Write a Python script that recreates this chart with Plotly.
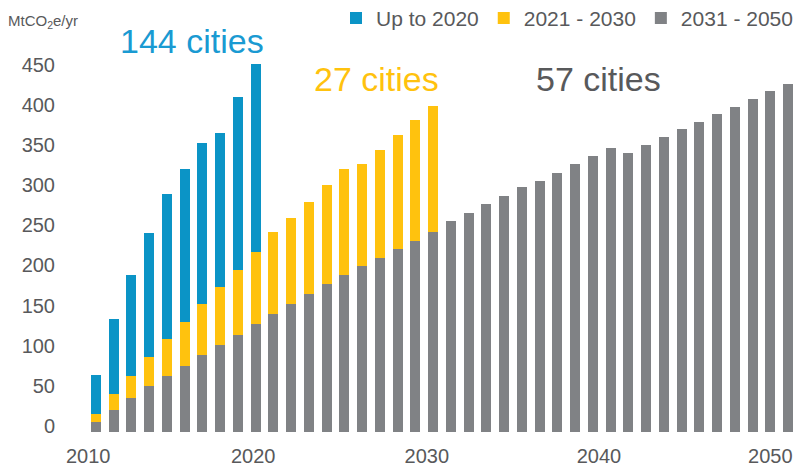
import plotly.graph_objects as go

# ---- data (MtCO2e/yr) ----
years = list(range(2011, 2051))

# segment: cities peaking up to 2020 (blue), 2011-2020
blue_years = list(range(2011, 2021))
blue_vals = [48.6, 94.3, 124.9, 154.9, 180.2, 190.5, 201.4, 192.3, 215.0, 234.6]

# segment: cities peaking 2021-2030 (yellow), 2011-2030
yellow_years = list(range(2011, 2031))
yellow_vals = [9.5, 19.0, 27.9, 36.5, 46.4, 55.3, 63.5, 72.3, 80.9, 90.1,
               102.4, 107.5, 115.0, 123.3, 132.0, 126.7, 134.5, 142.9, 149.8, 157.8]

# segment: cities peaking 2031-2050 (gray), 2011-2050
gray_vals = [12.5, 27.9, 42.3, 56.9, 69.4, 82.2, 95.5, 108.3, 121.3, 134.1,
             146.6, 159.0, 171.9, 184.3, 196.0, 206.7, 217.2, 227.5, 238.4, 248.7,
             262.4, 273.2, 283.6, 294.4, 304.7, 312.6, 323.0, 333.4, 343.7, 353.7,
             348.0, 357.4, 367.4, 377.0, 386.6, 396.0, 405.2, 414.7, 424.3, 433.9]

series_names = ["Up to 2020", "2021 - 2030", "2031 - 2050"]
group_labels = ["144 cities", "27 cities", "57 cities"]

y_ticks = [0, 50, 100, 150, 200, 250, 300, 350, 400, 450]
x_tick_labels = ["2010", "2020", "2030", "2040", "2050"]
x_tick_pos = [2010.56, 2019.86, 2029.64, 2039.34, 2048.99]

# ---- style ----
BLUE = "#0B94C6"
YELLOW = "#FFC20E"
GRAY = "#808285"
TXT = "#58595B"
FONT = "Liberation Sans, Arial, sans-serif"

fig = go.Figure()
fig.add_trace(go.Bar(x=years, y=gray_vals, name=series_names[2], marker_color=GRAY,
                     marker_line_width=0, legendrank=3))
fig.add_trace(go.Bar(x=yellow_years, y=yellow_vals, name=series_names[1], marker_color=YELLOW,
                     marker_line_width=0, legendrank=2))
fig.add_trace(go.Bar(x=blue_years, y=blue_vals, name=series_names[0], marker_color=BLUE,
                     marker_line_width=0, legendrank=1))

fig.update_layout(
    width=798, height=466, autosize=False,
    barmode="stack", bargap=0.437,
    plot_bgcolor="white", paper_bgcolor="white",
    margin=dict(l=60, r=0, t=0, b=34, autoexpand=False),
    font=dict(family=FONT, color=TXT, size=20),
    legend=dict(orientation="h", x=1.0, y=1.005, xanchor="right", yanchor="top",
                font=dict(size=21, color=TXT, family=FONT), traceorder="normal",
                bgcolor="rgba(0,0,0,0)", itemwidth=30),
    showlegend=True,
)
fig.update_xaxes(range=[2008.975, 2050.552], tickmode="array", tickvals=x_tick_pos,
                 ticktext=x_tick_labels, showgrid=False, zeroline=False, showline=False,
                 ticks="", ticklabelstandoff=10, tickfont=dict(size=20, color=TXT))
fig.update_yaxes(range=[0, 538], tickmode="array", tickvals=y_ticks,
                 showgrid=False, zeroline=False, showline=False, ticks="",
                 ticklabelstandoff=4, ticklabelshift=-6, tickfont=dict(size=20, color=TXT))

fig.add_annotation(x=2016.39, y=487, xref="x", yref="y", text=group_labels[0], showarrow=False,
                   font=dict(size=34, color="#1A9AD2", family=FONT), xanchor="center", yanchor="middle")
fig.add_annotation(x=2026.8, y=440, xref="x", yref="y", text=group_labels[1], showarrow=False,
                   font=dict(size=34, color=YELLOW, family=FONT), xanchor="center", yanchor="middle")
fig.add_annotation(x=2039.34, y=440, xref="x", yref="y", text=group_labels[2], showarrow=False,
                   font=dict(size=34, color=TXT, family=FONT), xanchor="center", yanchor="middle")
fig.add_annotation(x=-0.0733, y=0.951, xref="paper", yref="paper", text="MtCO<sub>2</sub>e/yr",
                   showarrow=False, font=dict(size=15, color=TXT, family=FONT),
                   xanchor="left", yanchor="middle")

fig.write_html("out.html", config={"displayModeBar": False},
               post_script="document.body.style.margin='0';")
